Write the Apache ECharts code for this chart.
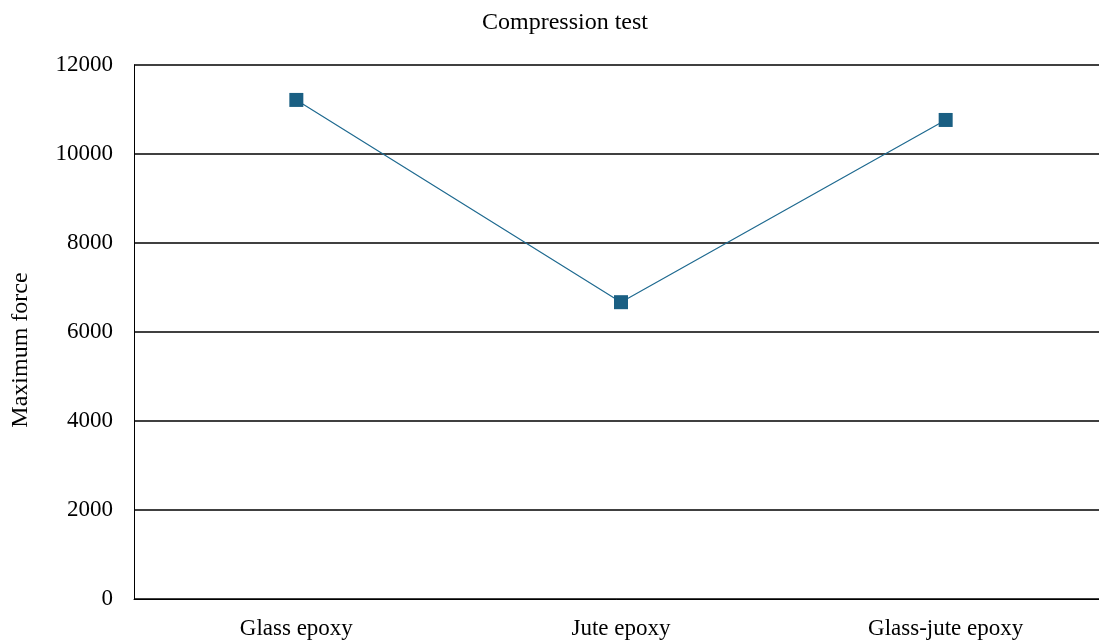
<!DOCTYPE html>
<html><head><meta charset="utf-8">
<script src="https://cdn.jsdelivr.net/npm/echarts@6/dist/echarts.min.js"></script>
<style>html,body{margin:0;padding:0;background:#fff}#c{width:1099px;height:642px}</style>
</head><body><div id="c"></div>
<script>
const categories = ['Glass epoxy', 'Jute epoxy', 'Glass-jute epoxy'];
const maxForce = [11215, 6670, 10765];
const yTicks = [0, 2000, 4000, 6000, 8000, 10000, 12000];

const chart = echarts.init(document.getElementById('c'));
const font = 'Liberation Serif, Times New Roman, serif';
chart.setOption({
  animation: false,
  title: { text: 'Compression test', left: 560, top: 6, textAlign: 'center',
    textStyle: { fontFamily: font, fontSize: 24, fontWeight: 'normal', color: '#000' } },
  grid: { left: 134, width: 974, top: 65, height: 534, outerBoundsMode: 'none', containLabel: false },
  xAxis: { type: 'category', data: categories,
    axisLine: { show: true, lineStyle: { color: '#000', width: 1 } },
    axisTick: { show: false },
    axisLabel: { fontFamily: font, fontSize: 23, color: '#000', margin: 18 } },
  yAxis: { type: 'value', min: yTicks[0], max: yTicks[yTicks.length-1], interval: 2000,
    name: 'Maximum force', nameLocation: 'middle', nameGap: 101,
    nameTextStyle: { fontFamily: font, fontSize: 24, color: '#000', padding: [0, 36, 0, 0] },
    axisLine: { show: true, lineStyle: { color: '#000', width: 1 } },
    axisTick: { show: false },
    splitLine: { lineStyle: { color: '#000', width: 1.6 } },
    axisLabel: { fontFamily: font, fontSize: 23, color: '#000', margin: 21,
      formatter: v => String(v) } },
  series: [{ type: 'line', data: maxForce, symbol: 'rect', symbolSize: 14,
    lineStyle: { color: '#1f6a90', width: 1.2 },
    itemStyle: { color: '#1a5f83' } }]
});
</script></body></html>
